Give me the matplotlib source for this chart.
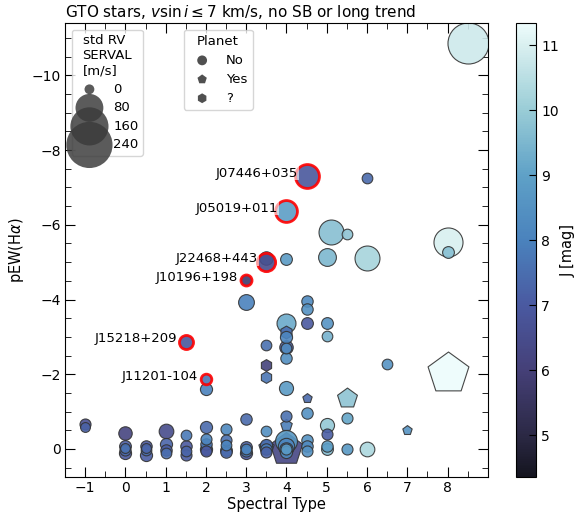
import matplotlib.pyplot as plt
import matplotlib as mp
from matplotlib.colors import LinearSegmentedColormap, Normalize
import numpy as np

# GTO stars with low vsini: spectral type, pEW(Halpha), J magnitude,
# std of SERVAL RVs and planet flag (0 = no, 1 = yes, 2 = unknown)
spt = [-1, -1,
       0, 0, 0, 0, 0,
       0.5, 0.5, 0.5, 0.5,
       1, 1, 1, 1,
       1.5, 1.5, 1.5, 1.5, 1.5,
       2, 2, 2, 2, 2, 2, 2,
       2.5, 2.5, 2.5, 2.5, 2.5,
       3, 3, 3, 3, 3, 3, 3,
       3.5, 3.5, 3.5, 3.5, 3.5, 3.5, 3.5, 3.5, 3.5, 3.5,
       4, 4, 4, 4, 4, 4, 4, 4, 4, 4, 4, 4, 4, 4, 4, 4, 4,
       4.5, 4.5, 4.5, 4.5, 4.5, 4.5, 4.5, 4.5, 4.5,
       5.1, 5, 5, 5, 5, 5, 5, 5,
       5.5, 5.5, 5.5, 5.5,
       6, 6, 6,
       6.5, 7,
       8, 8, 8,
       8.5]
pew = [-0.68, -0.60,
       -0.44, -0.08, 0.02, 0.12, -0.02,
       -0.08, 0.03, 0.15, -0.02,
       -0.49, -0.12, 0.02, 0.10,
       -0.37, -0.08, 0.05, 0.16, -2.87,
       -1.87, -1.60, -0.60, -0.27, -0.12, 0.0, 0.05,
       -0.54, -0.24, -0.10, 0.02, 0.08,
       -4.52, -3.94, -0.81, -0.05, 0.05, 0.12, 0.0,
       -5.01, -5.11, -2.78, -2.24, -1.93, -0.49, -0.05, -0.10, 0.0, 0.08,
       -6.37, -5.09, -3.37, -3.14, -3.00, -2.73, -2.70, -2.44, -1.63, -0.88,
       -0.64, 0.0, -0.20, -0.08, 0.0, 0.08, 0.0,
       -7.31, -3.97, -3.75, -3.37, -1.36, -0.97, -0.24, -0.08, 0.05,
       -5.82, -5.15, -3.38, -3.02, -0.64, -0.40, -0.08, 0.0,
       -5.76, -1.36, -0.83, 0.0,
       -7.25, -5.12, 0.0,
       -2.28, -0.51,
       -5.55, -5.26, -2.04,
       -10.87]
jmag = [6.6, 7.2,
        6.2, 7.1, 7.4, 6.9, 7.6,
        6.9, 7.5, 7.1, 7.3,
        6.5, 7.3, 7.1, 7.5,
        7.8, 7.0, 7.3, 7.1, 6.9,
        7.7, 8.0, 7.4, 8.1, 7.7, 7.2, 7.0,
        8.2, 7.6, 8.1, 7.8, 7.4,
        5.8, 8.0, 7.4, 7.2, 7.9, 7.0, 8.1,
        6.5, 8.2, 7.6, 6.1, 7.7, 8.4, 7.8, 7.5, 7.9, 7.2,
        8.9, 8.8, 9.2, 7.5, 8.1, 7.1, 8.3, 8.4, 8.8, 7.6,
        7.9, 6.3, 8.7, 8.1, 7.8, 8.3, 8.8,
        6.9, 8.3, 8.5, 7.0, 7.4, 8.5, 8.6, 8.3, 8.5,
        9.7, 9.5, 8.6, 9.4, 9.9, 7.1, 8.9, 9.6,
        9.8, 9.8, 9.1, 8.7,
        7.4, 10.2, 10.3,
        8.6, 8.6,
        11.0, 9.7, 11.34,
        10.8]
std_rv = [3, 0,
          10, 5, 3, 6, 0,
          4, 2, 6, 0,
          14, 6, 4, 2,
          2, 4, 2, 3, 12,
          2, 6, 6, 3, 4, 6, 3,
          3, 3, 2, 5, 4,
          3, 18, 4, 5, 3, 6, 2,
          28, 10, 2, 5, 5, 2, 19, 6, 4, 3,
          45, 5, 31, 8, 6, 10, 2, 4, 12, 3,
          6, 125, 45, 20, 10, 6, 3,
          56, 4, 4, 5, 0, 4, 4, 4, 3,
          62, 26, 5, 2, 12, 3, 4, 5,
          2, 40, 3, 3,
          2, 62, 14,
          2, 0,
          88, 5, 206,
          187]
planet = [0, 0,
          0, 0, 0, 0, 0,
          0, 0, 0, 0,
          0, 0, 0, 0,
          0, 0, 0, 0, 0,
          0, 0, 0, 0, 0, 0, 0,
          0, 0, 0, 0, 0,
          0, 0, 0, 0, 0, 0, 0,
          0, 0, 0, 2, 2, 0, 1, 0, 0, 0,
          0, 0, 0, 2, 0, 0, 0, 0, 0, 0,
          1, 1, 0, 0, 0, 0, 0,
          0, 0, 0, 0, 1, 0, 0, 0, 0,
          0, 0, 0, 0, 0, 0, 0, 0,
          0, 1, 0, 0,
          0, 0, 0,
          0, 1,
          0, 0, 1,
          0]

# stars flagged by name
names = {(4.5, -7.31): 'J07446+035',
         (4, -6.37): 'J05019+011',
         (3.5, -5.01): 'J22468+443',
         (3, -4.52): 'J10196+198',
         (1.5, -2.87): 'J15218+209',
         (2, -1.87): 'J11201-104'}

legend_std = [0, 80, 160, 240]
jmin, jmax = 4.36, 11.34


def msize(s):
    return 50 + 4.4 * np.asarray(s, dtype=float)


# ice-like colormap, anchored at J values
anchors = [(4.36, (0.08, 0.08, 0.12)), (5, (0.17, 0.16, 0.27)),
           (6, (0.27, 0.25, 0.47)), (7, (0.29, 0.35, 0.63)),
           (8, (0.29, 0.51, 0.74)), (9, (0.37, 0.63, 0.78)),
           (10, (0.60, 0.80, 0.84)), (11, (0.85, 0.94, 0.94)),
           (11.34, (0.93, 0.99, 0.99))]
ice = LinearSegmentedColormap.from_list(
    'ice', [((v - jmin) / (jmax - jmin), c) for v, c in anchors])
norm = Normalize(vmin=jmin, vmax=jmax)

fig = plt.figure(figsize=(5.78, 5.15), dpi=100)
ax = fig.add_axes([0.1125, 0.0738, 0.7315, 0.8815])
cax = fig.add_axes([0.892, 0.0738, 0.036, 0.8815])

markers = {0: 'o', 1: 'p', 2: 'h'}
x = np.array(spt)
y = np.array(pew)
j = np.array(jmag)
s = msize(std_rv)
p = np.array(planet)

# draw big ones first so the small ones stay visible
order = np.argsort(-s)
for i in order:
    red = (spt[i], pew[i]) in names
    ax.scatter(x[i], y[i], s=s[i], c=[j[i]], cmap=ice, norm=norm,
               marker=markers[p[i]], alpha=0.9,
               edgecolors='red' if red else '#333333',
               linewidths=2.0 if red else 0.8, zorder=3 if red else 2)

for (xx, yy), name in names.items():
    ax.annotate(name, (xx, yy), xytext=(-6, 2), textcoords='offset points',
                ha='right', va='center', fontsize=9.5, zorder=4,
                bbox=dict(facecolor='white', edgecolor='none', alpha=0.6, pad=0.5))

ax.set_xlim(-1.5, 9.0)
ax.set_ylim(0.75, -11.4)
ax.set_xticks(range(-1, 9))
ax.xaxis.set_minor_locator(mp.ticker.MultipleLocator(0.5))
ax.yaxis.set_major_locator(mp.ticker.MultipleLocator(2))
ax.yaxis.set_minor_locator(mp.ticker.MultipleLocator(0.5))
ax.tick_params(which='both', direction='in', top=True, right=True, labelsize=10)
ax.tick_params(which='major', length=7, pad=3)
ax.tick_params(which='minor', length=4)
ax.set_xlabel('Spectral Type', fontsize=10.5, labelpad=1)
ax.set_ylabel(r'pEW(H$\alpha$)', fontsize=10.5)
ax.set_title(r'GTO stars, $v\sin i \leq 7$ km/s, no SB or long trend',
             loc='left', fontsize=11, pad=4)

# size legend
hs = [ax.scatter([], [], s=msize(v), c='#3b3b3b', alpha=0.84, edgecolors='none')
      for v in legend_std]
leg1 = ax.legend(hs, [str(v) for v in legend_std], title='std RV\nSERVAL\n[m/s]',
                 loc='upper left', fontsize=9.5, title_fontsize=9.5,
                 labelspacing=0.42, scatterpoints=1, borderpad=0.35)
ax.add_artist(leg1)

# planet legend
hp = [ax.scatter([], [], s=50, c='#505050', marker=markers[k], edgecolors='none')
      for k in (0, 1, 2)]
ax.legend(hp, ['No', 'Yes', '?'], title='Planet', loc='upper left',
          bbox_to_anchor=(0.265, 1.0), fontsize=9.5, title_fontsize=9.5,
          labelspacing=0.45, scatterpoints=1, borderpad=0.4)

sm = mp.cm.ScalarMappable(norm=norm, cmap=ice)
cb = fig.colorbar(sm, cax=cax)
cb.set_label('J [mag]', fontsize=10.5, labelpad=1)
cb.ax.tick_params(direction='in', labelsize=10, length=5)
cb.set_ticks(range(5, 12))

fig.savefig('out.png', dpi=100)
